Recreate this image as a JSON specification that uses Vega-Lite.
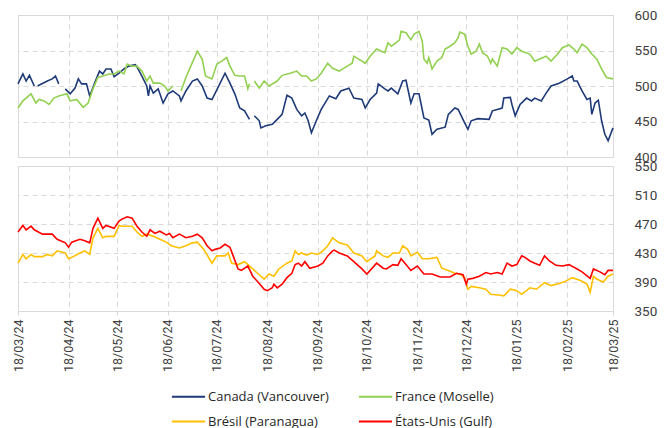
{
  "$schema": "https://vega.github.io/schema/vega-lite/v6.json",
  "padding": {"left": 11, "top": 7, "right": 5, "bottom": 0},
  "background": "white",
  "bounds": "flush",
  "config": {
    "font": "Roboto",
    "view": {"stroke": "#d9d9d9"},
    "axis": {"gridColor": "#d9d9d9", "gridDash": [5, 4], "labelColor": "#404040", "domain": false, "ticks": false, "title": null},
    "concat": {"spacing": 9}
  },
  "datasets": {
    "top": [
      {"d": "2024-03-18", "s": "Canada (Vancouver)", "v": 503},
      {"d": "2024-03-21", "s": "Canada (Vancouver)", "v": 517},
      {"d": "2024-03-23", "s": "Canada (Vancouver)", "v": 507},
      {"d": "2024-03-25", "s": "Canada (Vancouver)", "v": 515},
      {"d": "2024-03-28", "s": "Canada (Vancouver)", "v": 500},
      {"d": "2024-03-29", "s": "Canada (Vancouver)", "v": null},
      {"d": "2024-03-30", "s": "Canada (Vancouver)", "v": 500},
      {"d": "2024-04-05", "s": "Canada (Vancouver)", "v": 507},
      {"d": "2024-04-08", "s": "Canada (Vancouver)", "v": 510},
      {"d": "2024-04-10", "s": "Canada (Vancouver)", "v": 514},
      {"d": "2024-04-12", "s": "Canada (Vancouver)", "v": 503},
      {"d": "2024-04-14", "s": "Canada (Vancouver)", "v": null},
      {"d": "2024-04-16", "s": "Canada (Vancouver)", "v": 496},
      {"d": "2024-04-19", "s": "Canada (Vancouver)", "v": 489},
      {"d": "2024-04-22", "s": "Canada (Vancouver)", "v": 497},
      {"d": "2024-04-24", "s": "Canada (Vancouver)", "v": 510},
      {"d": "2024-04-26", "s": "Canada (Vancouver)", "v": 503},
      {"d": "2024-04-29", "s": "Canada (Vancouver)", "v": 503},
      {"d": "2024-05-01", "s": "Canada (Vancouver)", "v": 486},
      {"d": "2024-05-04", "s": "Canada (Vancouver)", "v": 504},
      {"d": "2024-05-07", "s": "Canada (Vancouver)", "v": 521},
      {"d": "2024-05-09", "s": "Canada (Vancouver)", "v": 517},
      {"d": "2024-05-11", "s": "Canada (Vancouver)", "v": 524},
      {"d": "2024-05-14", "s": "Canada (Vancouver)", "v": 524},
      {"d": "2024-05-16", "s": "Canada (Vancouver)", "v": 513},
      {"d": "2024-05-19", "s": "Canada (Vancouver)", "v": 518},
      {"d": "2024-05-22", "s": "Canada (Vancouver)", "v": 524},
      {"d": "2024-05-25", "s": "Canada (Vancouver)", "v": 528},
      {"d": "2024-05-29", "s": "Canada (Vancouver)", "v": 530},
      {"d": "2024-05-30", "s": "Canada (Vancouver)", "v": 527},
      {"d": "2024-06-02", "s": "Canada (Vancouver)", "v": 514},
      {"d": "2024-06-05", "s": "Canada (Vancouver)", "v": 500},
      {"d": "2024-06-06", "s": "Canada (Vancouver)", "v": 486},
      {"d": "2024-06-07", "s": "Canada (Vancouver)", "v": 500},
      {"d": "2024-06-09", "s": "Canada (Vancouver)", "v": 490},
      {"d": "2024-06-12", "s": "Canada (Vancouver)", "v": 496},
      {"d": "2024-06-15", "s": "Canada (Vancouver)", "v": 476},
      {"d": "2024-06-18", "s": "Canada (Vancouver)", "v": 489},
      {"d": "2024-06-21", "s": "Canada (Vancouver)", "v": 493},
      {"d": "2024-06-25", "s": "Canada (Vancouver)", "v": 486},
      {"d": "2024-06-26", "s": "Canada (Vancouver)", "v": 479},
      {"d": "2024-06-29", "s": "Canada (Vancouver)", "v": 493},
      {"d": "2024-07-03", "s": "Canada (Vancouver)", "v": 507},
      {"d": "2024-07-06", "s": "Canada (Vancouver)", "v": 510},
      {"d": "2024-07-09", "s": "Canada (Vancouver)", "v": 500},
      {"d": "2024-07-12", "s": "Canada (Vancouver)", "v": 483},
      {"d": "2024-07-15", "s": "Canada (Vancouver)", "v": 481},
      {"d": "2024-07-20", "s": "Canada (Vancouver)", "v": 504},
      {"d": "2024-07-23", "s": "Canada (Vancouver)", "v": 518},
      {"d": "2024-07-26", "s": "Canada (Vancouver)", "v": 504},
      {"d": "2024-07-29", "s": "Canada (Vancouver)", "v": 489},
      {"d": "2024-08-01", "s": "Canada (Vancouver)", "v": 469},
      {"d": "2024-08-04", "s": "Canada (Vancouver)", "v": 465},
      {"d": "2024-08-07", "s": "Canada (Vancouver)", "v": 453},
      {"d": "2024-08-08", "s": "Canada (Vancouver)", "v": null},
      {"d": "2024-08-10", "s": "Canada (Vancouver)", "v": 458},
      {"d": "2024-08-13", "s": "Canada (Vancouver)", "v": 451},
      {"d": "2024-08-14", "s": "Canada (Vancouver)", "v": 441},
      {"d": "2024-08-17", "s": "Canada (Vancouver)", "v": 444},
      {"d": "2024-08-21", "s": "Canada (Vancouver)", "v": 446},
      {"d": "2024-08-24", "s": "Canada (Vancouver)", "v": 453},
      {"d": "2024-08-27", "s": "Canada (Vancouver)", "v": 460},
      {"d": "2024-08-30", "s": "Canada (Vancouver)", "v": 487},
      {"d": "2024-09-02", "s": "Canada (Vancouver)", "v": 483},
      {"d": "2024-09-05", "s": "Canada (Vancouver)", "v": 467},
      {"d": "2024-09-08", "s": "Canada (Vancouver)", "v": 458},
      {"d": "2024-09-10", "s": "Canada (Vancouver)", "v": 462},
      {"d": "2024-09-12", "s": "Canada (Vancouver)", "v": 451},
      {"d": "2024-09-14", "s": "Canada (Vancouver)", "v": 434},
      {"d": "2024-09-17", "s": "Canada (Vancouver)", "v": 451},
      {"d": "2024-09-20", "s": "Canada (Vancouver)", "v": 467},
      {"d": "2024-09-25", "s": "Canada (Vancouver)", "v": 486},
      {"d": "2024-09-29", "s": "Canada (Vancouver)", "v": 482},
      {"d": "2024-10-02", "s": "Canada (Vancouver)", "v": 493},
      {"d": "2024-10-07", "s": "Canada (Vancouver)", "v": 497},
      {"d": "2024-10-10", "s": "Canada (Vancouver)", "v": 483},
      {"d": "2024-10-15", "s": "Canada (Vancouver)", "v": 481},
      {"d": "2024-10-17", "s": "Canada (Vancouver)", "v": 469},
      {"d": "2024-10-20", "s": "Canada (Vancouver)", "v": 481},
      {"d": "2024-10-24", "s": "Canada (Vancouver)", "v": 490},
      {"d": "2024-10-25", "s": "Canada (Vancouver)", "v": 503},
      {"d": "2024-10-29", "s": "Canada (Vancouver)", "v": 496},
      {"d": "2024-10-31", "s": "Canada (Vancouver)", "v": 493},
      {"d": "2024-11-02", "s": "Canada (Vancouver)", "v": 497},
      {"d": "2024-11-06", "s": "Canada (Vancouver)", "v": 489},
      {"d": "2024-11-09", "s": "Canada (Vancouver)", "v": 507},
      {"d": "2024-11-11", "s": "Canada (Vancouver)", "v": 508},
      {"d": "2024-11-14", "s": "Canada (Vancouver)", "v": 476},
      {"d": "2024-11-16", "s": "Canada (Vancouver)", "v": 489},
      {"d": "2024-11-19", "s": "Canada (Vancouver)", "v": 489},
      {"d": "2024-11-22", "s": "Canada (Vancouver)", "v": 455},
      {"d": "2024-11-25", "s": "Canada (Vancouver)", "v": 452},
      {"d": "2024-11-27", "s": "Canada (Vancouver)", "v": 432},
      {"d": "2024-11-30", "s": "Canada (Vancouver)", "v": 439},
      {"d": "2024-12-05", "s": "Canada (Vancouver)", "v": 442},
      {"d": "2024-12-07", "s": "Canada (Vancouver)", "v": 460},
      {"d": "2024-12-11", "s": "Canada (Vancouver)", "v": 469},
      {"d": "2024-12-13", "s": "Canada (Vancouver)", "v": 467},
      {"d": "2024-12-17", "s": "Canada (Vancouver)", "v": 448},
      {"d": "2024-12-19", "s": "Canada (Vancouver)", "v": 439},
      {"d": "2024-12-21", "s": "Canada (Vancouver)", "v": 451},
      {"d": "2024-12-25", "s": "Canada (Vancouver)", "v": 454},
      {"d": "2025-01-01", "s": "Canada (Vancouver)", "v": 453},
      {"d": "2025-01-03", "s": "Canada (Vancouver)", "v": 465},
      {"d": "2025-01-06", "s": "Canada (Vancouver)", "v": 467},
      {"d": "2025-01-09", "s": "Canada (Vancouver)", "v": 469},
      {"d": "2025-01-10", "s": "Canada (Vancouver)", "v": 483},
      {"d": "2025-01-14", "s": "Canada (Vancouver)", "v": 484},
      {"d": "2025-01-15", "s": "Canada (Vancouver)", "v": 474},
      {"d": "2025-01-17", "s": "Canada (Vancouver)", "v": 458},
      {"d": "2025-01-20", "s": "Canada (Vancouver)", "v": 474},
      {"d": "2025-01-24", "s": "Canada (Vancouver)", "v": 483},
      {"d": "2025-01-27", "s": "Canada (Vancouver)", "v": 479},
      {"d": "2025-01-29", "s": "Canada (Vancouver)", "v": 483},
      {"d": "2025-02-02", "s": "Canada (Vancouver)", "v": 479},
      {"d": "2025-02-05", "s": "Canada (Vancouver)", "v": 490},
      {"d": "2025-02-08", "s": "Canada (Vancouver)", "v": 500},
      {"d": "2025-02-13", "s": "Canada (Vancouver)", "v": 504},
      {"d": "2025-02-18", "s": "Canada (Vancouver)", "v": 510},
      {"d": "2025-02-21", "s": "Canada (Vancouver)", "v": 514},
      {"d": "2025-02-22", "s": "Canada (Vancouver)", "v": 507},
      {"d": "2025-02-24", "s": "Canada (Vancouver)", "v": 507},
      {"d": "2025-02-27", "s": "Canada (Vancouver)", "v": 493},
      {"d": "2025-03-02", "s": "Canada (Vancouver)", "v": 481},
      {"d": "2025-03-04", "s": "Canada (Vancouver)", "v": 483},
      {"d": "2025-03-05", "s": "Canada (Vancouver)", "v": 460},
      {"d": "2025-03-07", "s": "Canada (Vancouver)", "v": 476},
      {"d": "2025-03-09", "s": "Canada (Vancouver)", "v": 480},
      {"d": "2025-03-11", "s": "Canada (Vancouver)", "v": 451},
      {"d": "2025-03-13", "s": "Canada (Vancouver)", "v": 432},
      {"d": "2025-03-15", "s": "Canada (Vancouver)", "v": 423},
      {"d": "2025-03-18", "s": "Canada (Vancouver)", "v": 441},
      {"d": "2024-03-18", "s": "France (Moselle)", "v": 469},
      {"d": "2024-03-21", "s": "France (Moselle)", "v": 479},
      {"d": "2024-03-26", "s": "France (Moselle)", "v": 489},
      {"d": "2024-03-29", "s": "France (Moselle)", "v": 476},
      {"d": "2024-03-31", "s": "France (Moselle)", "v": 481},
      {"d": "2024-04-03", "s": "France (Moselle)", "v": 479},
      {"d": "2024-04-06", "s": "France (Moselle)", "v": 474},
      {"d": "2024-04-09", "s": "France (Moselle)", "v": 483},
      {"d": "2024-04-12", "s": "France (Moselle)", "v": 486},
      {"d": "2024-04-17", "s": "France (Moselle)", "v": 489},
      {"d": "2024-04-19", "s": "France (Moselle)", "v": 479},
      {"d": "2024-04-23", "s": "France (Moselle)", "v": 481},
      {"d": "2024-04-27", "s": "France (Moselle)", "v": 470},
      {"d": "2024-04-30", "s": "France (Moselle)", "v": 476},
      {"d": "2024-05-03", "s": "France (Moselle)", "v": 496},
      {"d": "2024-05-06", "s": "France (Moselle)", "v": 512},
      {"d": "2024-05-09", "s": "France (Moselle)", "v": 514},
      {"d": "2024-05-13", "s": "France (Moselle)", "v": 517},
      {"d": "2024-05-16", "s": "France (Moselle)", "v": 517},
      {"d": "2024-05-19", "s": "France (Moselle)", "v": 521},
      {"d": "2024-05-22", "s": "France (Moselle)", "v": 517},
      {"d": "2024-05-24", "s": "France (Moselle)", "v": 531},
      {"d": "2024-05-27", "s": "France (Moselle)", "v": 528},
      {"d": "2024-05-30", "s": "France (Moselle)", "v": 528},
      {"d": "2024-06-02", "s": "France (Moselle)", "v": 521},
      {"d": "2024-06-05", "s": "France (Moselle)", "v": 507},
      {"d": "2024-06-07", "s": "France (Moselle)", "v": 514},
      {"d": "2024-06-09", "s": "France (Moselle)", "v": 504},
      {"d": "2024-06-13", "s": "France (Moselle)", "v": 504},
      {"d": "2024-06-16", "s": "France (Moselle)", "v": 500},
      {"d": "2024-06-18", "s": "France (Moselle)", "v": 493},
      {"d": "2024-06-21", "s": "France (Moselle)", "v": 500},
      {"d": "2024-06-23", "s": "France (Moselle)", "v": null},
      {"d": "2024-06-26", "s": "France (Moselle)", "v": 493},
      {"d": "2024-06-29", "s": "France (Moselle)", "v": 512},
      {"d": "2024-07-02", "s": "France (Moselle)", "v": 528},
      {"d": "2024-07-06", "s": "France (Moselle)", "v": 549},
      {"d": "2024-07-09", "s": "France (Moselle)", "v": 538},
      {"d": "2024-07-11", "s": "France (Moselle)", "v": 514},
      {"d": "2024-07-15", "s": "France (Moselle)", "v": 510},
      {"d": "2024-07-18", "s": "France (Moselle)", "v": 531},
      {"d": "2024-07-21", "s": "France (Moselle)", "v": 535},
      {"d": "2024-07-24", "s": "France (Moselle)", "v": 540},
      {"d": "2024-07-26", "s": "France (Moselle)", "v": 528},
      {"d": "2024-07-29", "s": "France (Moselle)", "v": 515},
      {"d": "2024-08-01", "s": "France (Moselle)", "v": 514},
      {"d": "2024-08-04", "s": "France (Moselle)", "v": 514},
      {"d": "2024-08-06", "s": "France (Moselle)", "v": 496},
      {"d": "2024-08-07", "s": "France (Moselle)", "v": 503},
      {"d": "2024-08-08", "s": "France (Moselle)", "v": null},
      {"d": "2024-08-10", "s": "France (Moselle)", "v": 507},
      {"d": "2024-08-13", "s": "France (Moselle)", "v": 497},
      {"d": "2024-08-16", "s": "France (Moselle)", "v": 507},
      {"d": "2024-08-19", "s": "France (Moselle)", "v": 500},
      {"d": "2024-08-24", "s": "France (Moselle)", "v": 507},
      {"d": "2024-08-27", "s": "France (Moselle)", "v": 515},
      {"d": "2024-09-01", "s": "France (Moselle)", "v": 518},
      {"d": "2024-09-05", "s": "France (Moselle)", "v": 521},
      {"d": "2024-09-08", "s": "France (Moselle)", "v": 514},
      {"d": "2024-09-11", "s": "France (Moselle)", "v": 514},
      {"d": "2024-09-14", "s": "France (Moselle)", "v": 507},
      {"d": "2024-09-17", "s": "France (Moselle)", "v": 510},
      {"d": "2024-09-20", "s": "France (Moselle)", "v": 518},
      {"d": "2024-09-24", "s": "France (Moselle)", "v": 532},
      {"d": "2024-09-27", "s": "France (Moselle)", "v": 525},
      {"d": "2024-09-28", "s": "France (Moselle)", "v": 524},
      {"d": "2024-10-01", "s": "France (Moselle)", "v": 521},
      {"d": "2024-10-06", "s": "France (Moselle)", "v": 528},
      {"d": "2024-10-09", "s": "France (Moselle)", "v": 532},
      {"d": "2024-10-10", "s": "France (Moselle)", "v": 542},
      {"d": "2024-10-15", "s": "France (Moselle)", "v": 535},
      {"d": "2024-10-17", "s": "France (Moselle)", "v": 532},
      {"d": "2024-10-20", "s": "France (Moselle)", "v": 542},
      {"d": "2024-10-24", "s": "France (Moselle)", "v": 552},
      {"d": "2024-10-27", "s": "France (Moselle)", "v": 549},
      {"d": "2024-10-29", "s": "France (Moselle)", "v": 547},
      {"d": "2024-10-31", "s": "France (Moselle)", "v": 561},
      {"d": "2024-11-02", "s": "France (Moselle)", "v": 556},
      {"d": "2024-11-05", "s": "France (Moselle)", "v": 561},
      {"d": "2024-11-07", "s": "France (Moselle)", "v": 565},
      {"d": "2024-11-08", "s": "France (Moselle)", "v": 577},
      {"d": "2024-11-11", "s": "France (Moselle)", "v": 575},
      {"d": "2024-11-14", "s": "France (Moselle)", "v": 565},
      {"d": "2024-11-16", "s": "France (Moselle)", "v": 573},
      {"d": "2024-11-19", "s": "France (Moselle)", "v": 577},
      {"d": "2024-11-21", "s": "France (Moselle)", "v": 563},
      {"d": "2024-11-22", "s": "France (Moselle)", "v": 538},
      {"d": "2024-11-24", "s": "France (Moselle)", "v": 532},
      {"d": "2024-11-25", "s": "France (Moselle)", "v": 540},
      {"d": "2024-11-27", "s": "France (Moselle)", "v": 524},
      {"d": "2024-11-30", "s": "France (Moselle)", "v": 535},
      {"d": "2024-12-03", "s": "France (Moselle)", "v": 540},
      {"d": "2024-12-05", "s": "France (Moselle)", "v": 552},
      {"d": "2024-12-08", "s": "France (Moselle)", "v": 556},
      {"d": "2024-12-11", "s": "France (Moselle)", "v": 561},
      {"d": "2024-12-13", "s": "France (Moselle)", "v": 568},
      {"d": "2024-12-14", "s": "France (Moselle)", "v": 576},
      {"d": "2024-12-17", "s": "France (Moselle)", "v": 573},
      {"d": "2024-12-19", "s": "France (Moselle)", "v": 556},
      {"d": "2024-12-21", "s": "France (Moselle)", "v": 545},
      {"d": "2024-12-24", "s": "France (Moselle)", "v": 549},
      {"d": "2024-12-26", "s": "France (Moselle)", "v": 559},
      {"d": "2024-12-28", "s": "France (Moselle)", "v": 547},
      {"d": "2024-12-31", "s": "France (Moselle)", "v": 542},
      {"d": "2025-01-02", "s": "France (Moselle)", "v": 532},
      {"d": "2025-01-03", "s": "France (Moselle)", "v": 538},
      {"d": "2025-01-06", "s": "France (Moselle)", "v": 528},
      {"d": "2025-01-09", "s": "France (Moselle)", "v": 554},
      {"d": "2025-01-12", "s": "France (Moselle)", "v": 552},
      {"d": "2025-01-15", "s": "France (Moselle)", "v": 545},
      {"d": "2025-01-18", "s": "France (Moselle)", "v": 554},
      {"d": "2025-01-21", "s": "France (Moselle)", "v": 549},
      {"d": "2025-01-26", "s": "France (Moselle)", "v": 545},
      {"d": "2025-01-29", "s": "France (Moselle)", "v": 535},
      {"d": "2025-02-01", "s": "France (Moselle)", "v": 538},
      {"d": "2025-02-05", "s": "France (Moselle)", "v": 542},
      {"d": "2025-02-08", "s": "France (Moselle)", "v": 535},
      {"d": "2025-02-12", "s": "France (Moselle)", "v": 545},
      {"d": "2025-02-15", "s": "France (Moselle)", "v": 554},
      {"d": "2025-02-19", "s": "France (Moselle)", "v": 558},
      {"d": "2025-02-22", "s": "France (Moselle)", "v": 552},
      {"d": "2025-02-24", "s": "France (Moselle)", "v": 547},
      {"d": "2025-02-27", "s": "France (Moselle)", "v": 559},
      {"d": "2025-03-02", "s": "France (Moselle)", "v": 554},
      {"d": "2025-03-05", "s": "France (Moselle)", "v": 545},
      {"d": "2025-03-08", "s": "France (Moselle)", "v": 538},
      {"d": "2025-03-11", "s": "France (Moselle)", "v": 524},
      {"d": "2025-03-14", "s": "France (Moselle)", "v": 512},
      {"d": "2025-03-18", "s": "France (Moselle)", "v": 510}
    ],
    "bottom": [
      {"d": "2024-03-18", "s": "Brésil (Paranagua)", "v": 416},
      {"d": "2024-03-21", "s": "Brésil (Paranagua)", "v": 428},
      {"d": "2024-03-23", "s": "Brésil (Paranagua)", "v": 422},
      {"d": "2024-03-26", "s": "Brésil (Paranagua)", "v": 428},
      {"d": "2024-03-28", "s": "Brésil (Paranagua)", "v": 425},
      {"d": "2024-04-02", "s": "Brésil (Paranagua)", "v": 425},
      {"d": "2024-04-05", "s": "Brésil (Paranagua)", "v": 428},
      {"d": "2024-04-08", "s": "Brésil (Paranagua)", "v": 426},
      {"d": "2024-04-11", "s": "Brésil (Paranagua)", "v": 433},
      {"d": "2024-04-16", "s": "Brésil (Paranagua)", "v": 430},
      {"d": "2024-04-18", "s": "Brésil (Paranagua)", "v": 422},
      {"d": "2024-04-20", "s": "Brésil (Paranagua)", "v": 424},
      {"d": "2024-04-25", "s": "Brésil (Paranagua)", "v": 430},
      {"d": "2024-04-28", "s": "Brésil (Paranagua)", "v": 433},
      {"d": "2024-05-01", "s": "Brésil (Paranagua)", "v": 428},
      {"d": "2024-05-03", "s": "Brésil (Paranagua)", "v": 451},
      {"d": "2024-05-06", "s": "Brésil (Paranagua)", "v": 464},
      {"d": "2024-05-09", "s": "Brésil (Paranagua)", "v": 451},
      {"d": "2024-05-11", "s": "Brésil (Paranagua)", "v": 453},
      {"d": "2024-05-16", "s": "Brésil (Paranagua)", "v": 453},
      {"d": "2024-05-19", "s": "Brésil (Paranagua)", "v": 468},
      {"d": "2024-05-21", "s": "Brésil (Paranagua)", "v": 467},
      {"d": "2024-05-24", "s": "Brésil (Paranagua)", "v": 467},
      {"d": "2024-05-27", "s": "Brésil (Paranagua)", "v": 467},
      {"d": "2024-05-30", "s": "Brésil (Paranagua)", "v": 459},
      {"d": "2024-06-02", "s": "Brésil (Paranagua)", "v": 453},
      {"d": "2024-06-05", "s": "Brésil (Paranagua)", "v": 456},
      {"d": "2024-06-09", "s": "Brésil (Paranagua)", "v": 453},
      {"d": "2024-06-13", "s": "Brésil (Paranagua)", "v": 449},
      {"d": "2024-06-17", "s": "Brésil (Paranagua)", "v": 445},
      {"d": "2024-06-20", "s": "Brésil (Paranagua)", "v": 440},
      {"d": "2024-06-25", "s": "Brésil (Paranagua)", "v": 437},
      {"d": "2024-06-29", "s": "Brésil (Paranagua)", "v": 440},
      {"d": "2024-07-03", "s": "Brésil (Paranagua)", "v": 444},
      {"d": "2024-07-06", "s": "Brésil (Paranagua)", "v": 445},
      {"d": "2024-07-10", "s": "Brésil (Paranagua)", "v": 435},
      {"d": "2024-07-15", "s": "Brésil (Paranagua)", "v": 416},
      {"d": "2024-07-18", "s": "Brésil (Paranagua)", "v": 426},
      {"d": "2024-07-23", "s": "Brésil (Paranagua)", "v": 426},
      {"d": "2024-07-25", "s": "Brésil (Paranagua)", "v": 430},
      {"d": "2024-07-27", "s": "Brésil (Paranagua)", "v": 416},
      {"d": "2024-07-31", "s": "Brésil (Paranagua)", "v": 414},
      {"d": "2024-08-04", "s": "Brésil (Paranagua)", "v": 418},
      {"d": "2024-08-09", "s": "Brésil (Paranagua)", "v": 408},
      {"d": "2024-08-13", "s": "Brésil (Paranagua)", "v": 400},
      {"d": "2024-08-16", "s": "Brésil (Paranagua)", "v": 394},
      {"d": "2024-08-19", "s": "Brésil (Paranagua)", "v": 401},
      {"d": "2024-08-22", "s": "Brésil (Paranagua)", "v": 398},
      {"d": "2024-08-25", "s": "Brésil (Paranagua)", "v": 408},
      {"d": "2024-08-30", "s": "Brésil (Paranagua)", "v": 416},
      {"d": "2024-09-02", "s": "Brésil (Paranagua)", "v": 419},
      {"d": "2024-09-04", "s": "Brésil (Paranagua)", "v": 433},
      {"d": "2024-09-06", "s": "Brésil (Paranagua)", "v": 428},
      {"d": "2024-09-08", "s": "Brésil (Paranagua)", "v": 430},
      {"d": "2024-09-11", "s": "Brésil (Paranagua)", "v": 427},
      {"d": "2024-09-14", "s": "Brésil (Paranagua)", "v": 430},
      {"d": "2024-09-18", "s": "Brésil (Paranagua)", "v": 428},
      {"d": "2024-09-21", "s": "Brésil (Paranagua)", "v": 433},
      {"d": "2024-09-24", "s": "Brésil (Paranagua)", "v": 440},
      {"d": "2024-09-27", "s": "Brésil (Paranagua)", "v": 451},
      {"d": "2024-09-28", "s": "Brésil (Paranagua)", "v": 449},
      {"d": "2024-10-01", "s": "Brésil (Paranagua)", "v": 444},
      {"d": "2024-10-06", "s": "Brésil (Paranagua)", "v": 441},
      {"d": "2024-10-10", "s": "Brésil (Paranagua)", "v": 430},
      {"d": "2024-10-15", "s": "Brésil (Paranagua)", "v": 426},
      {"d": "2024-10-18", "s": "Brésil (Paranagua)", "v": 418},
      {"d": "2024-10-23", "s": "Brésil (Paranagua)", "v": 426},
      {"d": "2024-10-24", "s": "Brésil (Paranagua)", "v": 433},
      {"d": "2024-10-28", "s": "Brésil (Paranagua)", "v": 426},
      {"d": "2024-10-31", "s": "Brésil (Paranagua)", "v": 424},
      {"d": "2024-11-03", "s": "Brésil (Paranagua)", "v": 430},
      {"d": "2024-11-07", "s": "Brésil (Paranagua)", "v": 430},
      {"d": "2024-11-09", "s": "Brésil (Paranagua)", "v": 440},
      {"d": "2024-11-12", "s": "Brésil (Paranagua)", "v": 435},
      {"d": "2024-11-14", "s": "Brésil (Paranagua)", "v": 426},
      {"d": "2024-11-18", "s": "Brésil (Paranagua)", "v": 431},
      {"d": "2024-11-21", "s": "Brésil (Paranagua)", "v": 422},
      {"d": "2024-11-25", "s": "Brésil (Paranagua)", "v": 422},
      {"d": "2024-11-30", "s": "Brésil (Paranagua)", "v": 424},
      {"d": "2024-12-03", "s": "Brésil (Paranagua)", "v": 409},
      {"d": "2024-12-07", "s": "Brésil (Paranagua)", "v": 406},
      {"d": "2024-12-11", "s": "Brésil (Paranagua)", "v": 402},
      {"d": "2024-12-14", "s": "Brésil (Paranagua)", "v": 401},
      {"d": "2024-12-17", "s": "Brésil (Paranagua)", "v": 396},
      {"d": "2024-12-19", "s": "Brésil (Paranagua)", "v": 380},
      {"d": "2024-12-21", "s": "Brésil (Paranagua)", "v": 384},
      {"d": "2024-12-26", "s": "Brésil (Paranagua)", "v": 382},
      {"d": "2024-12-30", "s": "Brésil (Paranagua)", "v": 380},
      {"d": "2025-01-02", "s": "Brésil (Paranagua)", "v": 373},
      {"d": "2025-01-07", "s": "Brésil (Paranagua)", "v": 372},
      {"d": "2025-01-10", "s": "Brésil (Paranagua)", "v": 371},
      {"d": "2025-01-14", "s": "Brésil (Paranagua)", "v": 380},
      {"d": "2025-01-18", "s": "Brésil (Paranagua)", "v": 378},
      {"d": "2025-01-21", "s": "Brésil (Paranagua)", "v": 373},
      {"d": "2025-01-26", "s": "Brésil (Paranagua)", "v": 382},
      {"d": "2025-01-30", "s": "Brésil (Paranagua)", "v": 380},
      {"d": "2025-02-04", "s": "Brésil (Paranagua)", "v": 389},
      {"d": "2025-02-08", "s": "Brésil (Paranagua)", "v": 385},
      {"d": "2025-02-13", "s": "Brésil (Paranagua)", "v": 388},
      {"d": "2025-02-17", "s": "Brésil (Paranagua)", "v": 391},
      {"d": "2025-02-21", "s": "Brésil (Paranagua)", "v": 396},
      {"d": "2025-02-26", "s": "Brésil (Paranagua)", "v": 392},
      {"d": "2025-03-02", "s": "Brésil (Paranagua)", "v": 387},
      {"d": "2025-03-04", "s": "Brésil (Paranagua)", "v": 376},
      {"d": "2025-03-06", "s": "Brésil (Paranagua)", "v": 398},
      {"d": "2025-03-08", "s": "Brésil (Paranagua)", "v": 394},
      {"d": "2025-03-12", "s": "Brésil (Paranagua)", "v": 390},
      {"d": "2025-03-15", "s": "Brésil (Paranagua)", "v": 398},
      {"d": "2025-03-18", "s": "Brésil (Paranagua)", "v": 401},
      {"d": "2024-03-18", "s": "États-Unis (Gulf)", "v": 459},
      {"d": "2024-03-21", "s": "États-Unis (Gulf)", "v": 468},
      {"d": "2024-03-23", "s": "États-Unis (Gulf)", "v": 462},
      {"d": "2024-03-26", "s": "États-Unis (Gulf)", "v": 467},
      {"d": "2024-03-28", "s": "États-Unis (Gulf)", "v": 462},
      {"d": "2024-04-02", "s": "États-Unis (Gulf)", "v": 456},
      {"d": "2024-04-08", "s": "États-Unis (Gulf)", "v": 456},
      {"d": "2024-04-11", "s": "États-Unis (Gulf)", "v": 449},
      {"d": "2024-04-16", "s": "États-Unis (Gulf)", "v": 444},
      {"d": "2024-04-18", "s": "États-Unis (Gulf)", "v": 438},
      {"d": "2024-04-20", "s": "États-Unis (Gulf)", "v": 445},
      {"d": "2024-04-25", "s": "États-Unis (Gulf)", "v": 449},
      {"d": "2024-04-28", "s": "États-Unis (Gulf)", "v": 447},
      {"d": "2024-05-01", "s": "États-Unis (Gulf)", "v": 444},
      {"d": "2024-05-03", "s": "États-Unis (Gulf)", "v": 464},
      {"d": "2024-05-06", "s": "États-Unis (Gulf)", "v": 478},
      {"d": "2024-05-09", "s": "États-Unis (Gulf)", "v": 464},
      {"d": "2024-05-11", "s": "États-Unis (Gulf)", "v": 468},
      {"d": "2024-05-16", "s": "États-Unis (Gulf)", "v": 464},
      {"d": "2024-05-19", "s": "États-Unis (Gulf)", "v": 474},
      {"d": "2024-05-21", "s": "États-Unis (Gulf)", "v": 477},
      {"d": "2024-05-24", "s": "États-Unis (Gulf)", "v": 480},
      {"d": "2024-05-27", "s": "États-Unis (Gulf)", "v": 478},
      {"d": "2024-05-30", "s": "États-Unis (Gulf)", "v": 467},
      {"d": "2024-06-02", "s": "États-Unis (Gulf)", "v": 459},
      {"d": "2024-06-05", "s": "États-Unis (Gulf)", "v": 453},
      {"d": "2024-06-07", "s": "États-Unis (Gulf)", "v": 462},
      {"d": "2024-06-10", "s": "États-Unis (Gulf)", "v": 457},
      {"d": "2024-06-13", "s": "États-Unis (Gulf)", "v": 460},
      {"d": "2024-06-17", "s": "États-Unis (Gulf)", "v": 455},
      {"d": "2024-06-19", "s": "États-Unis (Gulf)", "v": 457},
      {"d": "2024-06-21", "s": "États-Unis (Gulf)", "v": 451},
      {"d": "2024-06-25", "s": "États-Unis (Gulf)", "v": 456},
      {"d": "2024-06-29", "s": "États-Unis (Gulf)", "v": 451},
      {"d": "2024-07-03", "s": "États-Unis (Gulf)", "v": 453},
      {"d": "2024-07-06", "s": "États-Unis (Gulf)", "v": 456},
      {"d": "2024-07-09", "s": "États-Unis (Gulf)", "v": 451},
      {"d": "2024-07-12", "s": "États-Unis (Gulf)", "v": 440},
      {"d": "2024-07-15", "s": "États-Unis (Gulf)", "v": 433},
      {"d": "2024-07-17", "s": "États-Unis (Gulf)", "v": 435},
      {"d": "2024-07-20", "s": "États-Unis (Gulf)", "v": 437},
      {"d": "2024-07-23", "s": "États-Unis (Gulf)", "v": 442},
      {"d": "2024-07-26", "s": "États-Unis (Gulf)", "v": 438},
      {"d": "2024-07-28", "s": "États-Unis (Gulf)", "v": 426},
      {"d": "2024-07-31", "s": "États-Unis (Gulf)", "v": 408},
      {"d": "2024-08-02", "s": "États-Unis (Gulf)", "v": 406},
      {"d": "2024-08-06", "s": "États-Unis (Gulf)", "v": 412},
      {"d": "2024-08-09", "s": "États-Unis (Gulf)", "v": 398},
      {"d": "2024-08-13", "s": "États-Unis (Gulf)", "v": 388},
      {"d": "2024-08-16", "s": "États-Unis (Gulf)", "v": 380},
      {"d": "2024-08-18", "s": "États-Unis (Gulf)", "v": 378},
      {"d": "2024-08-21", "s": "États-Unis (Gulf)", "v": 382},
      {"d": "2024-08-22", "s": "États-Unis (Gulf)", "v": 387},
      {"d": "2024-08-24", "s": "États-Unis (Gulf)", "v": 382},
      {"d": "2024-08-27", "s": "États-Unis (Gulf)", "v": 387},
      {"d": "2024-08-30", "s": "États-Unis (Gulf)", "v": 396},
      {"d": "2024-09-02", "s": "États-Unis (Gulf)", "v": 402},
      {"d": "2024-09-04", "s": "États-Unis (Gulf)", "v": 414},
      {"d": "2024-09-06", "s": "États-Unis (Gulf)", "v": 416},
      {"d": "2024-09-08", "s": "États-Unis (Gulf)", "v": 412},
      {"d": "2024-09-10", "s": "États-Unis (Gulf)", "v": 418},
      {"d": "2024-09-13", "s": "États-Unis (Gulf)", "v": 409},
      {"d": "2024-09-18", "s": "États-Unis (Gulf)", "v": 412},
      {"d": "2024-09-21", "s": "États-Unis (Gulf)", "v": 416},
      {"d": "2024-09-24", "s": "États-Unis (Gulf)", "v": 426},
      {"d": "2024-09-27", "s": "États-Unis (Gulf)", "v": 433},
      {"d": "2024-09-28", "s": "États-Unis (Gulf)", "v": 434},
      {"d": "2024-10-01", "s": "États-Unis (Gulf)", "v": 430},
      {"d": "2024-10-06", "s": "États-Unis (Gulf)", "v": 426},
      {"d": "2024-10-10", "s": "États-Unis (Gulf)", "v": 418},
      {"d": "2024-10-15", "s": "États-Unis (Gulf)", "v": 408},
      {"d": "2024-10-18", "s": "États-Unis (Gulf)", "v": 401},
      {"d": "2024-10-24", "s": "États-Unis (Gulf)", "v": 416},
      {"d": "2024-10-28", "s": "États-Unis (Gulf)", "v": 409},
      {"d": "2024-10-30", "s": "États-Unis (Gulf)", "v": 408},
      {"d": "2024-11-03", "s": "États-Unis (Gulf)", "v": 414},
      {"d": "2024-11-06", "s": "États-Unis (Gulf)", "v": 413},
      {"d": "2024-11-08", "s": "États-Unis (Gulf)", "v": 422},
      {"d": "2024-11-11", "s": "États-Unis (Gulf)", "v": 414},
      {"d": "2024-11-14", "s": "États-Unis (Gulf)", "v": 406},
      {"d": "2024-11-18", "s": "États-Unis (Gulf)", "v": 412},
      {"d": "2024-11-22", "s": "États-Unis (Gulf)", "v": 401},
      {"d": "2024-11-27", "s": "États-Unis (Gulf)", "v": 401},
      {"d": "2024-12-02", "s": "États-Unis (Gulf)", "v": 397},
      {"d": "2024-12-08", "s": "États-Unis (Gulf)", "v": 397},
      {"d": "2024-12-12", "s": "États-Unis (Gulf)", "v": 402},
      {"d": "2024-12-16", "s": "États-Unis (Gulf)", "v": 400},
      {"d": "2024-12-18", "s": "États-Unis (Gulf)", "v": 387},
      {"d": "2024-12-19", "s": "États-Unis (Gulf)", "v": 394},
      {"d": "2024-12-22", "s": "États-Unis (Gulf)", "v": 395},
      {"d": "2024-12-26", "s": "États-Unis (Gulf)", "v": 398},
      {"d": "2024-12-30", "s": "États-Unis (Gulf)", "v": 403},
      {"d": "2025-01-02", "s": "États-Unis (Gulf)", "v": 401},
      {"d": "2025-01-06", "s": "États-Unis (Gulf)", "v": 403},
      {"d": "2025-01-09", "s": "États-Unis (Gulf)", "v": 401},
      {"d": "2025-01-12", "s": "États-Unis (Gulf)", "v": 416},
      {"d": "2025-01-15", "s": "États-Unis (Gulf)", "v": 412},
      {"d": "2025-01-18", "s": "États-Unis (Gulf)", "v": 414},
      {"d": "2025-01-21", "s": "États-Unis (Gulf)", "v": 426},
      {"d": "2025-01-23", "s": "États-Unis (Gulf)", "v": 424},
      {"d": "2025-01-26", "s": "États-Unis (Gulf)", "v": 419},
      {"d": "2025-01-29", "s": "États-Unis (Gulf)", "v": 416},
      {"d": "2025-02-01", "s": "États-Unis (Gulf)", "v": 413},
      {"d": "2025-02-04", "s": "États-Unis (Gulf)", "v": 426},
      {"d": "2025-02-07", "s": "États-Unis (Gulf)", "v": 419},
      {"d": "2025-02-11", "s": "États-Unis (Gulf)", "v": 413},
      {"d": "2025-02-15", "s": "États-Unis (Gulf)", "v": 412},
      {"d": "2025-02-19", "s": "États-Unis (Gulf)", "v": 414},
      {"d": "2025-02-24", "s": "États-Unis (Gulf)", "v": 408},
      {"d": "2025-02-27", "s": "États-Unis (Gulf)", "v": 404},
      {"d": "2025-03-04", "s": "États-Unis (Gulf)", "v": 395},
      {"d": "2025-03-06", "s": "États-Unis (Gulf)", "v": 408},
      {"d": "2025-03-10", "s": "États-Unis (Gulf)", "v": 404},
      {"d": "2025-03-13", "s": "États-Unis (Gulf)", "v": 400},
      {"d": "2025-03-15", "s": "États-Unis (Gulf)", "v": 406},
      {"d": "2025-03-18", "s": "États-Unis (Gulf)", "v": 406}
    ]
  },
  "vconcat": [
    {
      "width": 595,
      "height": 142,
      "data": {"name": "top"},
      "mark": {"type": "line", "strokeWidth": 1.6, "invalid": "break-paths-filter-domains"},
      "encoding": {
        "x": {
          "field": "d",
          "type": "temporal",
          "scale": {"type": "utc", "domain": [{"year": 2024, "month": 3, "date": 18, "utc": true}, {"year": 2025, "month": 3, "date": 18, "utc": true}]},
          "axis": {
            "values": [
              {"year": 2024, "month": 3, "date": 18, "utc": true},
              {"year": 2024, "month": 4, "date": 18, "utc": true},
              {"year": 2024, "month": 5, "date": 18, "utc": true},
              {"year": 2024, "month": 6, "date": 18, "utc": true},
              {"year": 2024, "month": 7, "date": 18, "utc": true},
              {"year": 2024, "month": 8, "date": 18, "utc": true},
              {"year": 2024, "month": 9, "date": 18, "utc": true},
              {"year": 2024, "month": 10, "date": 18, "utc": true},
              {"year": 2024, "month": 11, "date": 18, "utc": true},
              {"year": 2024, "month": 12, "date": 18, "utc": true},
              {"year": 2025, "month": 1, "date": 18, "utc": true},
              {"year": 2025, "month": 2, "date": 18, "utc": true},
              {"year": 2025, "month": 3, "date": 18, "utc": true}
            ],
            "labels": false,
            "grid": true
          }
        },
        "y": {
          "field": "v",
          "type": "quantitative",
          "scale": {"domain": [400, 600], "nice": false, "zero": false},
          "axis": {"orient": "right", "values": [400, 450, 500, 550, 600], "labelPadding": 21, "labelFontSize": 13.5, "grid": true}
        },
        "color": {
          "field": "s",
          "type": "nominal",
          "scale": {
            "domain": ["Canada (Vancouver)", "France (Moselle)", "Brésil (Paranagua)", "États-Unis (Gulf)"],
            "range": ["#1F3A78", "#92D050", "#FFC000", "#FF0000"]
          },
          "legend": {
            "title": null,
            "orient": "none",
            "direction": "horizontal",
            "legendX": 153,
            "legendY": 364,
            "columns": 2,
            "symbolType": "stroke",
            "symbolSize": 1100,
            "symbolStrokeWidth": 1.8,
            "labelFont": "Open Sans",
            "labelFontSize": 13,
            "labelColor": "#262626",
            "labelOffset": 2,
            "columnPadding": 26,
            "rowPadding": 0
          }
        }
      }
    },
    {
      "width": 595,
      "height": 145,
      "data": {"name": "bottom"},
      "mark": {"type": "line", "strokeWidth": 1.6},
      "encoding": {
        "x": {
          "field": "d",
          "type": "temporal",
          "scale": {"type": "utc", "domain": [{"year": 2024, "month": 3, "date": 18, "utc": true}, {"year": 2025, "month": 3, "date": 18, "utc": true}]},
          "axis": {
            "values": [
              {"year": 2024, "month": 3, "date": 18, "utc": true},
              {"year": 2024, "month": 4, "date": 18, "utc": true},
              {"year": 2024, "month": 5, "date": 18, "utc": true},
              {"year": 2024, "month": 6, "date": 18, "utc": true},
              {"year": 2024, "month": 7, "date": 18, "utc": true},
              {"year": 2024, "month": 8, "date": 18, "utc": true},
              {"year": 2024, "month": 9, "date": 18, "utc": true},
              {"year": 2024, "month": 10, "date": 18, "utc": true},
              {"year": 2024, "month": 11, "date": 18, "utc": true},
              {"year": 2024, "month": 12, "date": 18, "utc": true},
              {"year": 2025, "month": 1, "date": 18, "utc": true},
              {"year": 2025, "month": 2, "date": 18, "utc": true},
              {"year": 2025, "month": 3, "date": 18, "utc": true}
            ],
            "format": "%d/%m/%y",
            "labelAngle": -90,
            "labelFontSize": 12.5,
            "labelPadding": 4,
            "ticks": true,
            "tickColor": "#d9d9d9",
            "tickSize": 4,
            "labelFlush": false,
            "labelOverlap": false,
            "grid": true
          }
        },
        "y": {
          "field": "v",
          "type": "quantitative",
          "scale": {"domain": [350, 550], "nice": false, "zero": false},
          "axis": {"orient": "right", "values": [350, 390, 430, 470, 510, 550], "labelPadding": 21, "labelFontSize": 13.5, "grid": true}
        },
        "color": {
          "field": "s",
          "type": "nominal",
          "scale": {
            "domain": ["Canada (Vancouver)", "France (Moselle)", "Brésil (Paranagua)", "États-Unis (Gulf)"],
            "range": ["#1F3A78", "#92D050", "#FFC000", "#FF0000"]
          }
        }
      }
    }
  ]
}
